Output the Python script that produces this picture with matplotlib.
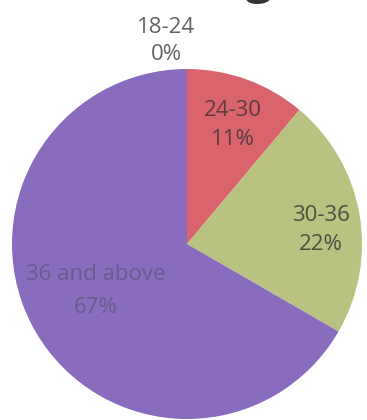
import numpy as np
import matplotlib
matplotlib.use("Agg")
import matplotlib.pyplot as plt

categories = ["18-24", "24-30", "30-36", "36 and above"]
counts = [0, 1, 2, 6]
colors = ["#4F81BD", "#D9646C", "#BAC282", "#8A6CBE"]
text_colors = ["#636363", "#5c3a3e", "#4e4e43", "#6a5a8c"]
# label placement (radius, angle offset in deg from wedge middle)
label_r = [1.166, 0.727, 0.771, 0.588]
label_off = [5.9, -0.9, -4.0, -2.8]
label_ls = [1.42, 1.47, 1.5, 1.78]

plt.rcParams['font.family'] = ['Open Sans', 'DejaVu Sans']

fig = plt.figure(figsize=(3.67, 4.2), dpi=100)
ax = fig.add_axes([0, 0, 1, 1])

total = sum(counts)
pcts = [round(100 * c / total) for c in counts]
wedges, _ = ax.pie(counts, colors=colors, startangle=90, counterclock=False,
                   radius=1.0, center=(0, 0), frame=True,
                   wedgeprops=dict(linewidth=0))
ax.set_xlim(-187 / 175, (367 - 187) / 175)
ax.set_ylim(-176 / 175, 244 / 175)
ax.axis("off")

for w, cat, p, r, off, tc, ls in zip(wedges, categories, pcts, label_r, label_off,
                                     text_colors, label_ls):
    mid = np.deg2rad((w.theta1 + w.theta2) / 2 + off)
    ax.text(r * np.cos(mid), r * np.sin(mid), f"{cat}\n{p}%", ha="center", va="center",
            fontsize=16, color=tc, linespacing=ls)

# partially visible title at the top (only the descender shows)
fig.text(0.70, 1.047, "Age", ha="center", va="center", fontsize=34,
         fontweight="bold", color="#333333")

fig.savefig("out.png", dpi=100, facecolor="white")
